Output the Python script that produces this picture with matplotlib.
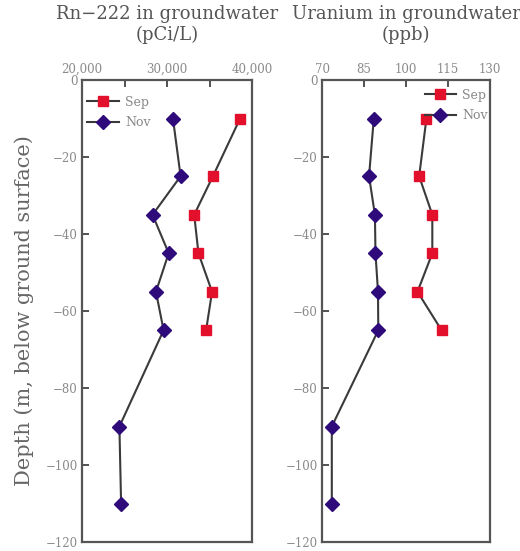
import matplotlib
matplotlib.use("Agg")
import matplotlib.pyplot as plt
import numpy as np

plt.rcParams['font.family'] = ['DejaVu Serif']

# Data
depth_sep = [-10, -25, -35, -45, -55, -65]
depth_nov = [-10, -25, -35, -45, -55, -65, -90, -110]

rn_sep = [38600, 35400, 33200, 33700, 35300, 34600]
rn_nov = [30700, 31600, 28300, 30200, 28700, 29600, 24400, 24600]

u_sep = [107.3, 104.7, 109.4, 109.4, 104.1, 112.7]
u_nov = [88.5, 86.8, 88.9, 89.1, 90.0, 90.1, 73.5, 73.5]

titles = ["Rn\u2212222 in groundwater\n(pCi/L)", "Uranium in groundwater\n(ppb)"]
ylabel = "Depth (m, below ground surface)"

W, H = 520, 551
fig = plt.figure(figsize=(W/100, H/100), dpi=100)

ax1 = fig.add_axes([82/W, 1-542/H, 170/W, 462/H])
ax2 = fig.add_axes([322/W, 1-542/H, 168/W, 462/H])

sep_kw = dict(color='#3a3a3a', lw=1.5, marker='s', markersize=6.8,
              markerfacecolor='#e3102c', markeredgecolor='#e3102c', label='Sep')
nov_kw = dict(color='#3a3a3a', lw=1.5, marker='D', markersize=7.5,
              markerfacecolor='#2e0a7a', markeredgecolor='#2e0a7a', label='Nov')

ax1.plot(rn_sep, depth_sep, **sep_kw)
ax1.plot(rn_nov, depth_nov, **nov_kw)
ax2.plot(u_sep, depth_sep, **sep_kw)
ax2.plot(u_nov, depth_nov, **nov_kw)

tick_col = '#8a8a8a'
for ax in (ax1, ax2):
    ax.set_ylim(-120, 0)
    ax.set_yticks(np.arange(-120, 1, 20))
    ax.xaxis.tick_top()
    ax.xaxis.set_label_position('top')
    ax.tick_params(axis='both', direction='in', length=5, width=1.3,
                   color='#444444', labelcolor=tick_col, labelsize=8.5,
                   top=True, bottom=False, left=True, right=False, pad=3)
    for s in ax.spines.values():
        s.set_color('#555555')
        s.set_linewidth(1.6)

ax1.set_xlim(20000, 40000)
ax1.set_xticks([20000, 25000, 30000, 35000, 40000])
ax1.set_xticklabels(['20,000', '', '30,000', '', '40,000'])

ax2.set_xlim(70, 130)
ax2.set_xticks([70, 85, 100, 115, 130])
ax2.set_xticklabels(['70', '85', '100', '115', '130'])

ax1.set_title(titles[0], fontsize=13, color='#555555', pad=29, linespacing=1.15)
ax2.set_title(titles[1], fontsize=13, color='#555555', pad=29, linespacing=1.15)

ax1.set_ylabel(ylabel, fontsize=15, color='#666666', labelpad=8)

leg_kw = dict(frameon=False, fontsize=9, labelcolor='#888888', handlelength=2.5,
              handletextpad=0.5, labelspacing=0.6)
ax1.legend(loc='upper left', bbox_to_anchor=(-0.02, 0.985), borderaxespad=0.3, **leg_kw)
ax2.legend(loc='upper right', bbox_to_anchor=(1.04, 1.0), borderaxespad=0.3, **leg_kw)

fig.savefig('out.png', dpi=100)
